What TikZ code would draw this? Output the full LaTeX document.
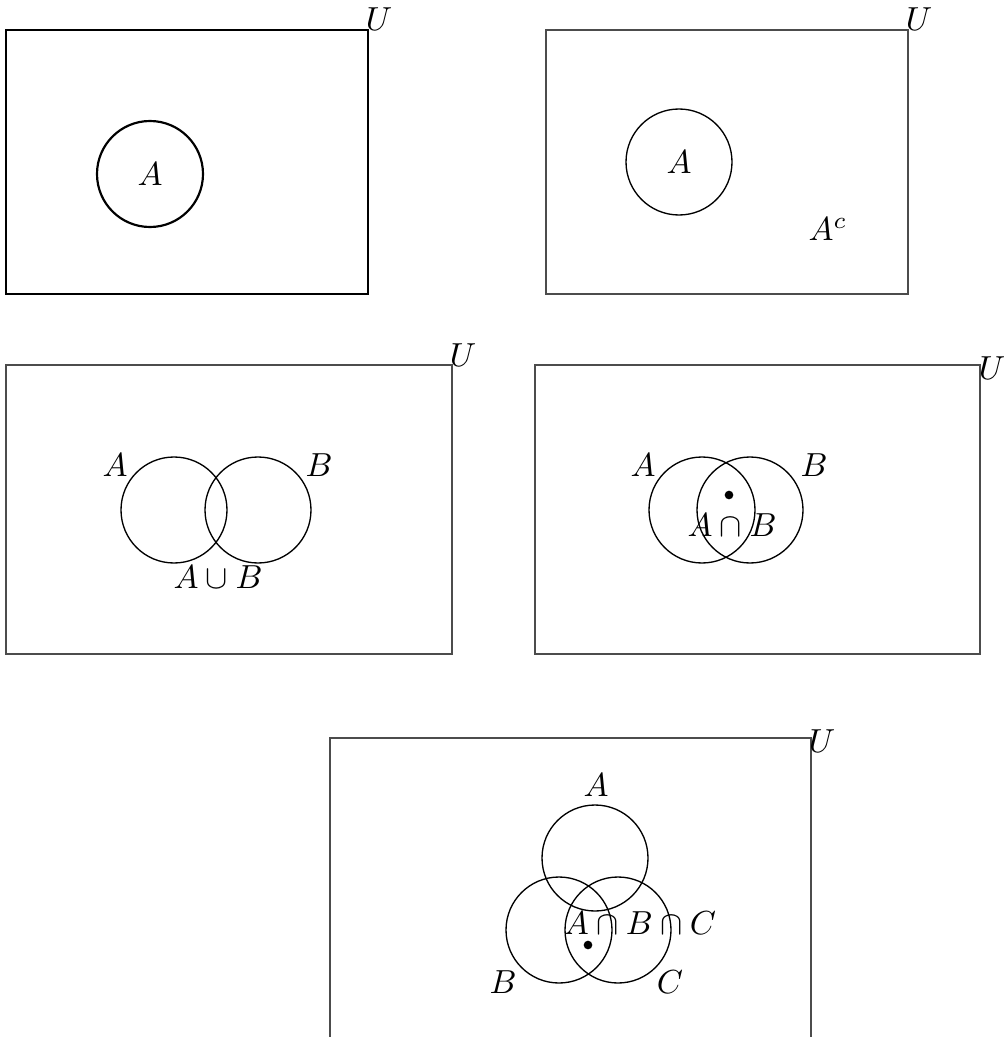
\documentclass[tikz,border=0pt]{standalone}
\begin{document}
\begin{tikzpicture}[x=0.3pt,y=-0.3pt,
  setc/.style={draw,circle,minimum size=31.8pt,inner sep=0pt},
  univ/.style={draw=black!70,line width=0.4pt},
  lbl/.style={inner sep=0pt},
  pt/.style={circle,fill,inner sep=0pt,minimum size=2.6pt}]
\useasboundingbox (0,0) rectangle (1003,1037);
% Panel 1
\draw[line width=0.65pt] (6,30) rectangle (368,294);
\node[lbl] (U1) at (379,19) {$U$};
\node[setc,line width=0.65pt] (A1) at (150,174) {$A$};
% Panel 2
\draw[univ] (546,30) rectangle (908,294);
\node[lbl] (U2) at (919,19) {$U$};
\node[setc] (A2) at (679,162) {$A$};
\node[lbl] (Ac) at (828,229) {$A^c$};
% Panel 3
\draw[univ] (6,365) rectangle (452,654);
\node[lbl] (U3) at (463,355) {$U$};
\node[setc] (A3) at (174,510) {};
\node[setc] (B3) at (258,510) {};
\node[lbl] (A3l) at (115,465) {$A$};
\node[lbl] (B3l) at (319,465) {$B$};
\node[lbl] (AuB) at (218,577) {$A\cup B$};
% Panel 4
\draw[univ] (535,365) rectangle (980,654);
\node[lbl] (U4) at (992,368) {$U$};
\node[setc] (A4) at (702,510) {};
\node[setc] (B4) at (750,510) {};
\node[lbl] (A4l) at (643,465) {$A$};
\node[lbl] (B4l) at (814,465) {$B$};
\node[pt] (d4) at (729,495) {};
\node[lbl] (AnB) at (732,525) {$A\cap B$};
% Panel 5
\draw[univ] (330,1040) -- (330,738) -- (811,738) -- (811,1040);
\node[lbl] (U5) at (822,741) {$U$};
\node[setc] (A5) at (595,858) {};
\node[setc] (B5) at (559,930) {};
\node[setc] (C5) at (618,930) {};
\node[lbl] (A5l) at (596,785) {$A$};
\node[lbl] (B5l) at (503,982) {$B$};
\node[lbl] (C5l) at (670,982) {$C$};
\node[lbl] (AnBnC) at (640,923) {$A\cap B\cap C$};
\node[pt] (d5) at (588,945) {};
\end{tikzpicture}
\end{document}
